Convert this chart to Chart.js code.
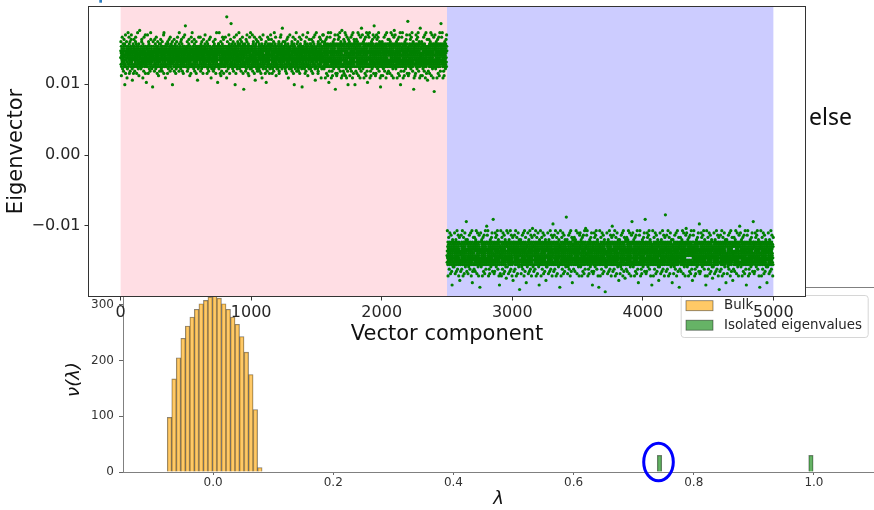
<!DOCTYPE html>
<html>
<head>
<meta charset="utf-8">
<script src="https://cdn.jsdelivr.net/npm/chart.js@4"></script>
<style>
  html, body { margin: 0; padding: 0; background: #fff; }
  #wrap { position: relative; width: 874px; height: 510px; overflow: hidden; }
  #wrap canvas { position: absolute; left: 0; top: 0; }
</style>
</head>
<body>
<div id="wrap">
  <canvas id="spectrum" width="874" height="510"></canvas>
  <canvas id="vector" width="874" height="350"></canvas>
</div>
<script>
// ---- eigenvector components ----
// one base-36 character per component: offset from the block level in steps of charStep (18 = on the level)
const componentsPerBlock = 2500;
const blockLevels = [0.0141, -0.0139];
const charStep = 0.00032;

const blockA = [
  "hkoejm9diglfqhjcikgnejbhmlpdfign5kiedrajmhdkgoljf8",
  "ifchkjmseldkgiqhnajfelobhkmgidjprlhfkegc7jmihdnkal",
  "jgpemhkdbilfhjoqgkeindmahljgkfsdhiecjmln9gfikhtejd",
  "kdhilcjfmgeopkhjdigl8nfekjmbhqigldfjhkeramgjihd6lf",
  "elhjgkrmdifahjokgnlecimhjbfkdgspihjelmkcgfihd4jkgo",
  "gimdkhjlebfpgkhjnidcemlqhkgjfiadhlomgjek9ihfjdlnkb",
  "fjkhgndpmielcjhkgibodfhmljgekriasjdhgklimfe8hjkgnd",
  "hdlgjemkiaojfhkncgdlipejhmkgfbqlhidjeknmghcjflo5ig",
  "mkejhidglfpbjgkhmdnileahjkcgfoidlhmjqekgigdhfljbns",
  "ighdjlmkefcohjgipkdlnhebfjmgkiaqhldjfekgmrhijdvlkg",
  "jflhkgdemiobkhjlcgmfdinpehjkgl9jdimfhkaegqhldjkosi",
  "kgjedhmlifcjhkpngdbieljmfhkgoadhijlmkfe7gjhilcdkqm",
  "dihkgjelmfqjhbkgnidlceomhjkfgidalhjpkemgihfjdlnrkg",
  "hlejgkmidfjoakhglncidjmebhkgfpjihldkmqegjhi8dlfkcj",
  "lgkhfdjimeobhgjkclnfidmhpjegkaidlhjsfkgmhie6jdlkgn",
  "nemcjsdikghlaejmfo9hkdgjbliefnhqkmjdgipalhekgjfmdi",
  "gdqkhimejlfb8zhjgkoedilmcfhjkrgidnlaehmjgkpfdiwlhe",
  "mjhfenkgcldiohjbmkgeqifldnj5hgkmeaildrhfjgkcmdhoin",
  "elfikgsmhjdcgnikpfelhjmbdgoikhejlqfmdnaigkh3jelmfd",
  "hinjdkeblgmpfchjiorkgedlmhajfnkg9ldiehqmjckgfsidhl",
  "kcgimehdlrjfbkingohedjmlaqfkhgi7djenlmhpfkcgjidobe",
  "fjoldhgkmicenjhbqdlgikfmeahjpldgn8kihmjefrcldigkhm",
  "dmhkeginaflcjoh6kdgmilfbehqjnkdgimpflehjakgcnidmlr",
  "ilgedpjhkmfanhcigdlkejobmhfsgidkjlnehqmgd9kflhicje",
  "hegmkcdjilnfohabgjkmdlieqfhkrjgdnmlicheukfjdgoilmh",
  "jkdhfmielogcnjbhkgdimaelpfjhkdgqnil8mehjfkcgldrieh",
  "glimdhkcjefnobkgidhmlqjeafkhdn5gilmjpeckhfgdjslieb",
  "ehjnkgdoiflcmbhjkgedqiamlhfnjkgdpielhcmj4kgfidrlhe",
  "mfkdgjhlceinoakhgjdmblfeqihkjnlgds9demhkfijcgpldhn",
  "kihegcmdjnlfpbhkgidjmlaoehfkjqgnildhmercj7kgfidlhs",
  "dlhjfkmgicenabohjkgdlimeqfhjkgnpdiel8hmkjcgfiodlrh",
  "gfmrdhjkcnielogfmd8hjknpielagfmdqhjk9nielsgfm6dhjbk",
  "mhdqgjnfsilke8mhdgbjnf9ilkeomhdcgjnfpilkermh3dgajnf",
  "egi9kmdafhjrlnepgikcmdfqhjlsnegbikmodfh8jlnteg9ikmd",
  "gdkbnhpelaifmojgsdk9nhrelcif8mjgqdknbhe5lipfmj",
  "dfhojln9egickmdqfhjblnergik8mdfshjlanegpikmodf5hjl",
  "nljbhfdpmkiagenoljhsfdm9kigrenlcjhf8dmkqigebnlujhf",
  "gdkrnheclifomjg8dknphelaifmqjgd9knhselibfm6jgdrknh",
  "jmeqhkdsngl8fijbmeh9kdnoglfcijmpehkrdngalfivjmeqhk",
  "iem9gdlajnfrkhipemgcdljqnfkshiebmgdoljn8fk4hiem9gd",
  "lhdjonfke9miglchdjnqfkembiglhrdjnf8kemisglhdajnfkp",
  "ekgbmindpjflekagmoindhsjflek9gmirndhcjfl8ekgqmitndh",
  "mjfrdgilcknehomjfd8gilkpnehamjfdqgil9knehsmj5fdgbil",
  "kniqelgfsmdhj8knieblgf9mdhjoknicelgfpmdhrjknaielgx",
  "fil9kemhadgjnrfilkpemhcdgjqnfilskemhbdgjonfi3lk8emh",
  "jln9egiakmdrfhjplnecgikqmdfshjlbnegoikm8dfhujln9egi",
  "heloifmj9gdkncheliqfmjgbdknrhel8ifmjsgdkahelipfm7jg",
  "fkebmiglphdjnafkemoiglshdj9nfkermigclhdj8nfkqemi2gl",
  "dngrlfijcmehkodngl8fijmpehkadnglqfij9mehskdnbglfiwj",
  "mkiqgenlsjhfd8mkigbenl9jhfdomkigcenljphfdrmkaigen6l",
  "jnfokhiem9gdljcnfkhqiemgbdljnrfkhi8emgdsljnfakh5iem",
  "ndh9jflaekgrminpdhjcflekqgmisndhbjfleokgm8indhtjfle",
  "ilkbnehmpjfdgailkneohmjsfdg9ilkrnehcmjfd8gilkqneh4m"
].join('');

const blockB = [
  "hejsgldn8fkimphejbgldnrfkim9hejqgldnafk4imhoejgcldn",
  "kgmceifrdlhn9jkgmoeifadlhnsjkgbmeifqdlh8njkgpme6ifd",
  "eidamfjqhlnbgkeisdmfj8hlnpgkei9dmfjrhlncgkeoidwmfja",
  "nhfokdgm9jelicnhfkqdgmjbelinrhfkd8gmjesli5nhafkdgpm",
  "glibdkjpenmhafglodkjsenmh9fglirdkjcenm8hfgqlidkj3en",
  "djnrgekcfihomldj8ngekpfihamldqjnge9kfihsmldbjngekuf",
  "dnfqkimshejg8ldnfbkim9hejgoldncfkimphejrgldanfkixmhe",
  "fdl9hnjakgmreifpdlhcnjkqgmeisfdlbhnjokgm8eif4dlhnj9",
  "jhlsngke8idmpfjhblngrkeid9mfjqhlnagkeoidmcfjh7lngs",
  "gmjcelinrhfk9dgmjoelinahfksdgmbjelqinhf8kdgmpje6lin",
  "kjeanmhqfglbidkjsenmh8fglpidkj9enmhrfglcidkoje2nmhf",
  "kfiohml9djncgekfqihmbldjrngek8fihsmldajngpekfi5hmld",
  "dfhcjlnregi9kmdofhjalnesgikbmdfqhjl8negpikmtdfhcjl",
  "nljahfdqmkigbenljshfd8mkigpenlj9hfdrmkigcenl4jhofdm",
  "gdksnhel8ifmjpgdkbnhelrifmj9gdkqnhelaifmjogdk6nhcel",
  "jmechkdnrglfi9jmeohkdnaglfisjmebhkdnqglfi8jmephkvdn",
  "iemagdlqjnfbkhiesmgdl8jnfpkhie9mgdrljnfckhoiemgdl3j",
  "lhdsjnfk8emigplhdbjnfrkemi9glhqdjnfakemoiglhcdjnyfk",
  "ekgomin9dhjcfleqkgmbindrhjf8leksgmiandhpjfl5ekgomi",
  "mjfbdgilpknehamjfodgilsknehmj9fdgirlknehcmjfd8gilq",
  "knirelgcfmdohjkn8ielpgfmadhjqknie9lgfsmdhbjkntielg",
  "filqkemshdgj8nfilbkem9hdgjonfilckemphdgjrnfailk4em",
  "hej9gldanfkrimphejcgldqnfksimhebjgldonfk8imhej3gld",
  "kgmseif8dlhnpjkgmbeifrdlhn9jkgqmeifadlhonjkgm1eifcd",
  "eidcmfjrhlng9keidomfjahlngskeibdmfjqhlng8keipdmfuj",
  "nhfakdgqmjelbinhfskdg8mjelpinhf9kdgrmjelcinhofkd6gm",
  "gliodkj9enmhcfglqidkbjenrmhf8glisdkjaenmphfgl7idkoj",
  "djnbgekpfihamldojngeskfih9mldrjngeckfih8mldqjngwek",
  "negrikmcdfhojlne8gikpmdfahjlqnegi9kmdsfhjblneg5ikmd",
  "kigqenlsjhfd8mkigbenl9jhfdomkigcenlpjhfdrmkaigexnlj",
  "ifm9jgdaknhrelpifmcjgdqknhselbifmjogdk8nhelifmj4gdk",
  "glfsijme8hkdnpglfbijmerhkdn9glfqijmeahkdnoglfcijm6eh",
  "dljcnfkrhiem9gdljonfkahiemsgdlbjnfkqhiem8gdlpjnfzkh",
  "kemaiglqhdjnbfkemsigl8hdjnpfkem9iglrhdjncfkeomigl5hd",
  "dhjoflek9gmincdhjqflekbgminrdhj8flekgsmindahjflpekg3m",
  "ilkbnehpmjfdagilknoehmjsfdgi9lknrehmjcfdgil8knehqmjt",
  "fmdrhjkncielofmdh8jknpielafmdhqjkn9ielsfmdbhjkn6iel",
  "hdgqjnfsilkem8hdgbjnf9ilkemohdgcjnfpilkemrhdgajnfv",
  "fki9mhejagldnrfkipmhejcgldqnfkimshejgbldonfk8imhe4jg",
  "dlhsnjkg8meifpdlhbnjkgrmeif9dlhqnjkgameifodlhcnj7kg",
  "hlncgkeirdmfj9hlnogkeiadmfjshlnbgkeiqdmfj8hlnpgk2ei",
  "mjealinqhfkdbgmjesli8nhfkdpgmjel9inhrfkdcgmjoelin5hf",
  "enmohfg9lidkcjenqmhfbglidrkjen8mhfsglidakjenpmhfg6li",
  "fihbmldpjngeafihomldsjngek9fihmrldjcngekf8ihmqldjnuge",
  "hjlrnegcikmodfhj8lnegpikmadfhjqlneg9ikmsdfhjblne4gik",
  "fdmqkigsenlj8hfdmbkig9enljohfdmckigpenljrhfdamkigwenl",
  "nhe9lifamjgrdknphelcifmqjgdsknhbelifomjg8dknhe3lifm",
  "kdnsglfi8jmehpkdnbglfirjmeh9kdnqglfiajmehokdncglfi5jm",
  "gdlcjnfrkhiem9gdlojnfakhiemsgdlbjnfqkhiem8gdlpjnf0kh",
  "jnfakemqiglbhdjnsfkem8iglphdjn9fkemrighlcdjnofkem6ig",
  "minodhj9flekcgminqdhjbflekrgmin8dhjsflekagminpdhjtfl"
].join('');

const shadeEdges = [0, 2500, 5000];
const vectorXTicks = [0, 1000, 2000, 3000, 4000, 5000];
const vectorYTicks = [-0.01, 0, 0.01];

// ---- spectrum histogram ----
const bulkCenters = [-0.0726, -0.0651, -0.0576, -0.0500, -0.0425, -0.0350, -0.0275,
  -0.0199, -0.0124, -0.0049, 0.0026, 0.0101, 0.0177, 0.0252, 0.0327, 0.0402,
  0.0477, 0.0553, 0.0628, 0.0703, 0.0778];
const bulkCounts = [98, 167, 205, 240, 262, 278, 292, 302, 308, 314, 316, 312,
  302, 292, 278, 265, 243, 215, 175, 112, 8];
const isolatedValues = [0.743, 0.995];
const isolatedCounts = [30, 30];
const lambdaTicks = [0, 0.2, 0.4, 0.6, 0.8, 1.0];
const densityTicks = [0, 100, 200, 300];

Chart.defaults.font.family = '"DejaVu Sans", sans-serif';

function decodeBlock(str, start, level) {
  const pts = [];
  for (let i = 0; i < componentsPerBlock && i < str.length; i++) {
    pts.push({ x: start + i, y: level + (parseInt(str[i], 36) - 18) * charStep });
  }
  return pts;
}

const vectorPoints = decodeBlock(blockA, 0, blockLevels[0])
  .concat(decodeBlock(blockB, componentsPerBlock, blockLevels[1]));

const shadeColors = ['rgb(255,222,228)', 'rgb(204,204,255)'];

// keep the plot boxes exactly where the layout padding puts them
function noEdgePadding(s) {
  s.paddingTop = 0;
  s.paddingBottom = 0;
  s.paddingLeft = 0;
  s.paddingRight = 0;
}

const vectorBackdrop = {
  id: 'vectorBackdrop',
  beforeDatasetsDraw(chart) {
    const { ctx, chartArea: a, scales: { x } } = chart;
    ctx.save();
    ctx.fillStyle = '#fff';
    ctx.fillRect(a.left, a.top, a.right - a.left, a.bottom - a.top);
    for (let i = 0; i < shadeEdges.length - 1; i++) {
      const x0 = x.getPixelForValue(shadeEdges[i]);
      const x1 = x.getPixelForValue(shadeEdges[i + 1]);
      ctx.fillStyle = shadeColors[i];
      ctx.fillRect(x0, a.top, x1 - x0, a.bottom - a.top);
    }
    ctx.restore();
  },
  afterDraw(chart) {
    const { ctx, chartArea: a } = chart;
    ctx.save();
    ctx.strokeStyle = '#333';
    ctx.lineWidth = 1;
    ctx.strokeRect(a.left + 0.5, a.top + 0.5, a.right - a.left - 1, a.bottom - a.top - 1);
    ctx.fillStyle = '#111';
    ctx.font = '23px "Noto Sans"';
    ctx.textBaseline = 'alphabetic';
    ctx.fillText('else', a.right + 3, 125);
    ctx.fillStyle = '#2f7fc1';
    ctx.fillRect(99.3, 0, 2.7, 2.7);
    ctx.restore();
  }
};

new Chart(document.getElementById('vector'), {
  type: 'scatter',
  data: {
    datasets: [{
      label: 'Eigenvector',
      data: vectorPoints,
      pointRadius: 1.6,
      pointHoverRadius: 1.6,
      pointBackgroundColor: '#008000',
      pointBorderWidth: 0
    }]
  },
  options: {
    responsive: false,
    animation: false,
    events: [],
    layout: { padding: { top: 6, right: 68, bottom: 0, left: 0 } },
    plugins: { legend: { display: false }, tooltip: { enabled: false } },
    scales: {
      x: {
        type: 'linear', min: -250, max: 5250, bounds: 'data',
        afterBuildTicks: s => { s.ticks = vectorXTicks.map(v => ({ value: v })); },
        afterFit: s => { s.height = 53; noEdgePadding(s); },
        grid: { drawOnChartArea: false, tickLength: 3.5, tickColor: '#333' },
        border: { display: false },
        ticks: { font: { size: 16 }, color: '#262626', padding: 3, maxRotation: 0, autoSkip: false,
                 callback: v => String(v) },
        title: { display: true, text: 'Vector component', font: { size: 21 }, color: '#111',
                 padding: { top: 0, bottom: 3 } }
      },
      y: {
        type: 'linear', min: -0.02008, max: 0.02107, bounds: 'data',
        afterBuildTicks: s => { s.ticks = vectorYTicks.map(v => ({ value: v })); },
        afterFit: s => { s.width = 88; noEdgePadding(s); },
        grid: { drawOnChartArea: false, tickLength: 3.5, tickColor: '#333' },
        border: { display: false },
        ticks: { font: { size: 16 }, color: '#262626', padding: 4,
                 callback: v => (v < 0 ? '\u2212' : '') + Math.abs(v).toFixed(2) },
        title: { display: true, text: 'Eigenvector', font: { size: 21 }, color: '#111',
                 padding: { top: 4, bottom: 0 } }
      }
    }
  },
  plugins: [vectorBackdrop]
});

const spectrumExtras = {
  id: 'spectrumExtras',
  afterDatasetsDraw(chart) {
    const { ctx, scales: { x, y } } = chart;
    // ring round the first isolated eigenvalue
    const cx = x.getPixelForValue(isolatedValues[0]) - 1;
    const cy = y.getPixelForValue(isolatedCounts[0] * 0.6);
    ctx.save();
    ctx.strokeStyle = '#0000ff';
    ctx.lineWidth = 3;
    ctx.beginPath();
    ctx.ellipse(cx, cy, 14.8, 18.8, 0, 0, Math.PI * 2);
    ctx.stroke();
    ctx.restore();
  },
  afterDraw(chart) {
    const { ctx, chartArea: a } = chart;
    ctx.save();
    ctx.strokeStyle = '#808080';
    ctx.lineWidth = 1;
    ctx.beginPath();
    ctx.moveTo(a.left, a.top + 0.5);
    ctx.lineTo(a.right, a.top + 0.5);
    ctx.stroke();

    // legend box, upper right
    const lx = a.right - 193.3, ly = a.top + 8;
    ctx.fillStyle = 'rgba(255,255,255,0.8)';
    ctx.strokeStyle = '#d6d6d6';
    ctx.beginPath();
    ctx.roundRect(lx + 0.5, ly + 0.5, 187, 42, 3);
    ctx.fill();
    ctx.stroke();
    ctx.font = '13.4px "DejaVu Sans"';
    ctx.textBaseline = 'middle';
    chart.data.datasets.forEach((ds, i) => {
      const py = ly + 5.7 + i * 19.5;
      ctx.fillStyle = ds.backgroundColor;
      ctx.fillRect(lx + 5.3, py, 27, 10);
      ctx.strokeStyle = ds.borderColor;
      ctx.lineWidth = 0.8;
      ctx.strokeRect(lx + 5.3, py, 27, 10);
      ctx.fillStyle = '#262626';
      ctx.fillText(ds.label, lx + 43.3, py + 5);
    });
    ctx.restore();
  }
};

new Chart(document.getElementById('spectrum'), {
  type: 'bar',
  data: {
    datasets: [{
      label: 'Bulk',
      data: bulkCenters.map((x, i) => ({ x, y: bulkCounts[i] })),
      backgroundColor: 'rgba(255,165,0,0.6)',
      borderColor: 'rgba(0,0,0,0.5)',
      borderWidth: 0.7
    }, {
      label: 'Isolated eigenvalues',
      data: isolatedValues.map((x, i) => ({ x, y: isolatedCounts[i] })),
      backgroundColor: 'rgba(0,128,0,0.6)',
      borderColor: 'rgba(0,0,0,0.5)',
      borderWidth: 0.7
    }]
  },
  options: {
    responsive: false,
    animation: false,
    events: [],
    datasets: { bar: { grouped: false, barPercentage: 1, categoryPercentage: 1 } },
    layout: { padding: { top: 287, right: 0, bottom: 0, left: 0 } },
    plugins: { legend: { display: false }, tooltip: { enabled: false } },
    scales: {
      x: {
        type: 'linear', min: -0.15, max: 1.1, bounds: 'data', offset: false,
        afterBuildTicks: s => { s.ticks = lambdaTicks.map(v => ({ value: v })); },
        afterFit: s => { s.height = 38; noEdgePadding(s); },
        grid: { offset: false, drawOnChartArea: false, tickLength: 3, tickColor: '#666' },
        border: { display: true, color: '#808080', width: 1 },
        ticks: { font: { size: 12 }, color: '#333', padding: 1, maxRotation: 0, autoSkip: false,
                 callback: v => v.toFixed(1) },
        title: { display: true, text: 'λ', font: { size: 18, style: 'italic' }, color: '#111',
                 padding: { top: 0, bottom: 0 } }
      },
      y: {
        type: 'linear', min: 0, max: 332, bounds: 'data',
        afterBuildTicks: s => { s.ticks = densityTicks.map(v => ({ value: v })); },
        afterFit: s => { s.width = 123; noEdgePadding(s); },
        grid: { drawOnChartArea: false, tickLength: 4, tickColor: '#666' },
        border: { display: true, color: '#808080', width: 1 },
        ticks: { font: { size: 12 }, color: '#333', padding: 5, callback: v => String(v) },
        title: { display: true, text: 'ν(λ)', font: { size: 18, style: 'italic' }, color: '#111',
                 padding: { top: 64, bottom: 0 } }
      }
    }
  },
  plugins: [spectrumExtras]
});
</script>
</body>
</html>
